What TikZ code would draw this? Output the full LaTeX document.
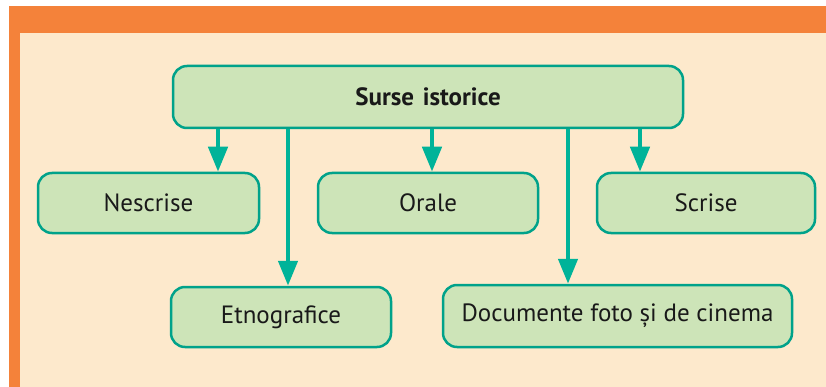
\documentclass[tikz,border=0pt]{standalone}
\usepackage{fontspec}
\setmainfont{PT Sans}
\usetikzlibrary{arrows.meta}

\definecolor{frameorange}{HTML}{F4823A}
\definecolor{paper}{HTML}{FDE9CC}
\definecolor{boxgreen}{HTML}{CDE4B8}
\definecolor{boxedge}{HTML}{00A28A}
\definecolor{arrowteal}{HTML}{00B399}

\begin{document}
\begin{tikzpicture}[x=1pt, y=-1pt, thick,
    main/.style = {draw=boxedge, line width=2.5pt, fill=boxgreen, rounded corners=14pt,
                   font=\fontsize{25}{28}\selectfont, text=black!90},
    arr/.style = {draw=arrowteal, line width=4.5pt,
                  -{Triangle[length=25pt,width=19pt]}}]
        \useasboundingbox (0,0) rectangle (826,387);
        \fill[white] (0,0) rectangle (826,387);
        \fill[frameorange] (9,6) rectangle (826,387);
        \fill[paper] (20,33) rectangle (826,387);
        % boxes
        \node[main, minimum width=510pt, minimum height=62pt] (1) at (428,97) {\textbf{Surse\hspace{0.35em}istorice}};
        \node[main, minimum width=221pt, minimum height=60pt] (2) at (148.5,203) {Nescrise};
        \node[main, minimum width=220pt, minimum height=60pt] (3) at (428,203) {Orale};
        \node[main, minimum width=218pt, minimum height=60pt] (4) at (706,203) {Scrise};
        \node[main, minimum width=220pt, minimum height=60pt] (5) at (281,317) {Etnografice};
        \node[main, minimum width=349pt, minimum height=62pt] (6) at (617.5,316) {Documente foto și de cinema};
        % arrows
        \draw[arr] (1.south -| 218,0) -- (2.north -| 218,0);
        \draw[arr] (1.south -| 288,0) -- (5.north -| 288,0);
        \draw[arr] (1.south -| 432,0) -- (3.north -| 432,0);
        \draw[arr] (1.south -| 568,0) -- (6.north -| 568,0);
        \draw[arr] (1.south -| 640,0) -- (4.north -| 640,0);
\end{tikzpicture}
\end{document}
